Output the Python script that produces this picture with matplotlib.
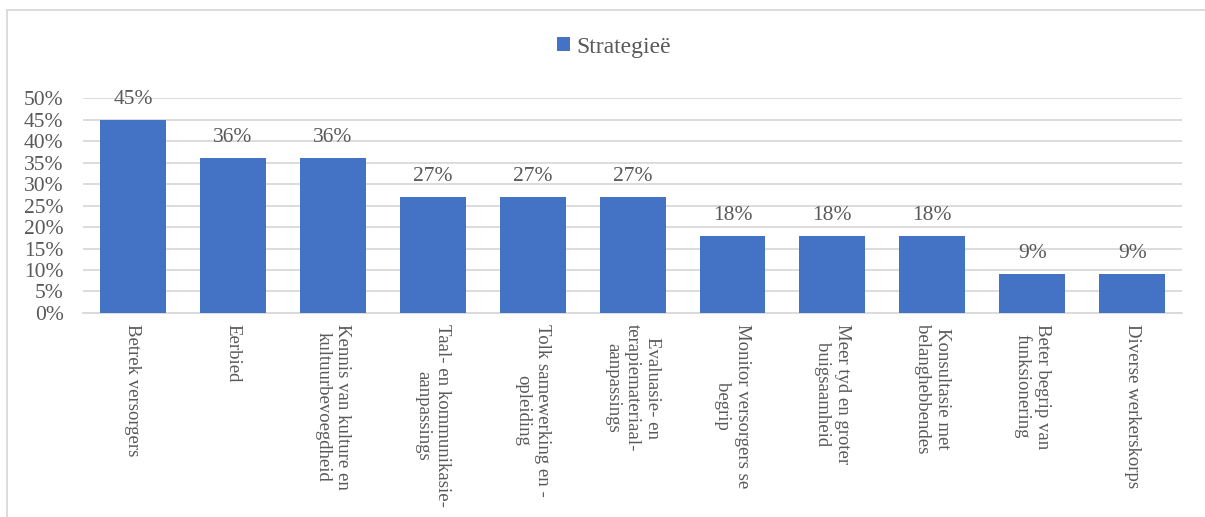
import matplotlib
matplotlib.use('Agg')
import matplotlib.pyplot as plt
from matplotlib.patches import Rectangle

categories = [
    'Betrek versorgers',
    'Eerbied',
    'Kennis van kulture en\nkultuurbevoegdheid',
    'Taal- en kommunikasie-\naanpassings',
    'Tolk samewerking en -\nopleiding',
    'Evaluasie- en\nterapiemateriaal-\naanpassings',
    'Monitor versorgers se\nbegrip',
    'Meer tyd en groter\nbuigsaamheid',
    'Konsultasie met\nbelanghebbendes',
    'Beter begrip van\nfunksionering',
    'Diverse werkerskorps',
]
percentages = [45, 36, 36, 27, 27, 27, 18, 18, 18, 9, 9]
series_name = 'Strategieë'
yticks = [0, 5, 10, 15, 20, 25, 30, 35, 40, 45, 50]

BLUE = '#4472C4'
GREY_TEXT = '#595959'
GRID = '#D9D9D9'

plt.rcParams['font.family'] = ['Liberation Serif', 'DejaVu Serif']
plt.rcParams['font.size'] = 15.5

fig = plt.figure(figsize=(12.05, 5.17), dpi=100)
ax = fig.add_axes([0.0689, 0.3946, 0.9121, 0.4158])

x = range(len(categories))
bars = ax.bar(x, percentages, width=0.66, color=BLUE, label=series_name, zorder=3)

for xi, v in zip(x, percentages):
    ax.annotate(f'{v}%', (xi, v), xytext=(0, 11.5), textcoords='offset points',
                ha='center', va='baseline', color=GREY_TEXT, fontsize=15.5)

ax.set_xlim(-0.5, len(categories) - 0.5)
ax.set_ylim(0, 50)
ax.set_yticks(yticks)
ax.set_yticklabels([f'{t}%' for t in yticks], color=GREY_TEXT)
ax.set_xticks(list(x))
ax.set_xticklabels(categories, rotation=270, ha='center', va='top',
                   multialignment='center', color=GREY_TEXT, fontsize=13.5,
                   linespacing=1.2)
ax.tick_params(axis='both', length=0)
ax.tick_params(axis='y', pad=14)
ax.tick_params(axis='x', pad=8)

ax.yaxis.grid(True, color=GRID, linewidth=1.3, zorder=0)
for s in ['top', 'right', 'left']:
    ax.spines[s].set_visible(False)
ax.spines['bottom'].set_color(GRID)
ax.spines['bottom'].set_linewidth(1.3)

fig.legend(handles=[bars], labels=[series_name], loc='center',
           bbox_to_anchor=(0.5095, 0.909), frameon=False,
           handlelength=0.55, handleheight=0.55, handletextpad=0.25,
           fontsize=17, labelcolor=GREY_TEXT)

# light frame around the whole chart area
fig.patches.append(Rectangle((0.0058, -0.05), 1.1, 0.9807 + 0.05,
                             transform=fig.transFigure, fill=False,
                             edgecolor=GRID, linewidth=1.3))

fig.savefig('out.png', dpi=100)
